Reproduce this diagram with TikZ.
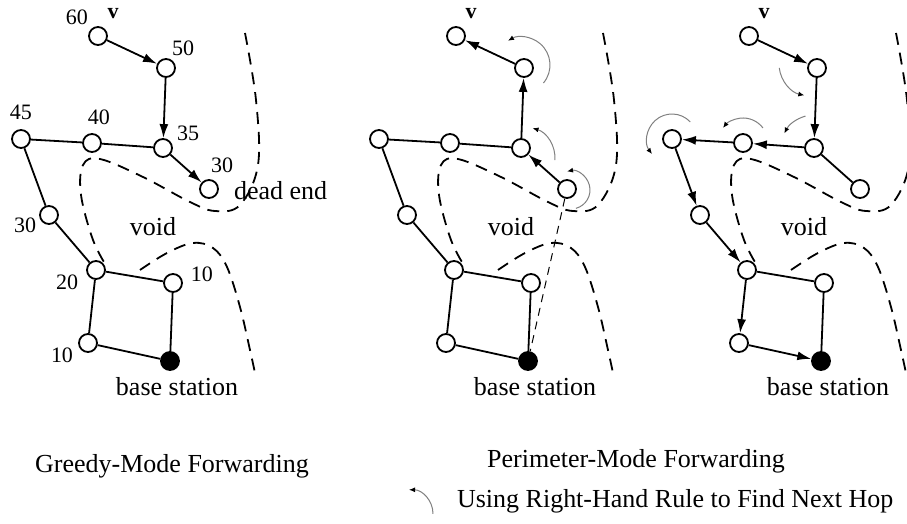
\documentclass[tikz,border=0pt]{standalone}
\usepackage{fontspec}
\setmainfont{Liberation Serif}
\usetikzlibrary{arrows.meta}

\begin{document}
\begin{tikzpicture}[
    x=0.5pt, y=-0.5pt,
    sensor/.style={draw, circle, minimum size=9pt, inner sep=0pt, line width=0.9pt, fill=white},
    sink/.style={sensor, fill=black},
    link/.style={line width=0.9pt},
    hop/.style={link, -{Latex[length=7pt, width=4.5pt]}},
    boundary/.style={line width=0.9pt, dash pattern=on 6pt off 4pt},
    rhr/.style={gray, line width=0.5pt, -{Latex[length=3pt, width=2.5pt, color=black]}},
    lbl/.style={font=\fontsize{13}{15}\selectfont},
    num/.style={font=\fontsize{11}{13}\selectfont}
]
    \useasboundingbox (0,0) rectangle (907,524);

    % Three copies of the same network
    \foreach \p/\dx in {g/0, p/358, h/651} {
    \begin{scope}[shift={(\dx,0)}, name prefix=\p-]
        % Void boundaries
        \draw[boundary] plot[smooth, tension=0.6] coordinates {(245,33) (256,100) (258,165) (240,205) (215,211) (190,202) (143,177) (100,159) (83,165) (81,195) (93,240) (107,267)};
        \draw[boundary] plot[smooth, tension=0.6] coordinates {(140,270) (167,253) (193,243) (213,248) (227,267) (240,307) (250,350) (255,373)};

        % Sensor nodes
        \node[sensor] (v) at (98,36) {};
        \node[sensor] (n50) at (166,68) {};
        \node[sensor] (n35) at (163,148) {};
        \node[sensor] (n30) at (209,189) {};
        \node[sensor] (n40) at (92,143) {};
        \node[sensor] (n45) at (21,139) {};
        \node[sensor] (n30b) at (49,215) {};
        \node[sensor] (n20) at (96,270) {};
        \node[sensor] (n10a) at (173,283) {};
        \node[sensor] (n10b) at (88,343) {};
        \node[sink] (bs) at (170,361) {};

        % Labels
        \node[num, font=\fontsize{11}{13}\selectfont\bfseries] (vlabel) at (113,14) {v};
        \node[lbl] (void) at (153,227) {void};
        \node[lbl] (bslabel) at (177,387) {base station};
    \end{scope}
    }

    % Greedy mode: distances to the base station
    \node[num] (d60) at (77,17) {60};
    \node[num] (d50) at (183,48) {50};
    \node[num] (d45) at (21,112) {45};
    \node[num] (d40) at (99,117) {40};
    \node[num] (d35) at (188,133) {35};
    \node[num] (d30) at (222,165) {30};
    \node[lbl, anchor=west] (deadend) at (227,191) {dead end};
    \node[num] (d30b) at (25,225) {30};
    \node[num] (d20) at (67,282) {20};
    \node[num] (d10a) at (202,274) {10};
    \node[num] (d10b) at (62,355) {10};

    % Greedy mode edges
    \draw[hop] (g-v) -- (g-n50);
    \draw[hop] (g-n50) -- (g-n35);
    \draw[hop] (g-n35) -- (g-n30);
    \draw[link] (g-n45) -- (g-n40) -- (g-n35);
    \draw[link] (g-n45) -- (g-n30b) -- (g-n20) -- (g-n10a) -- (g-bs) -- (g-n10b) -- (g-n20);

    % Perimeter mode, back towards v
    \draw[hop] (p-n30) -- (p-n35);
    \draw[hop] (p-n35) -- (p-n50);
    \draw[hop] (p-n50) -- (p-v);
    \draw[link] (p-n45) -- (p-n40) -- (p-n35);
    \draw[link] (p-n45) -- (p-n30b) -- (p-n20) -- (p-n10a) -- (p-bs) -- (p-n10b) -- (p-n20);
    \draw[line width=0.5pt, dash pattern=on 4pt off 3pt] (p-n30) -- (p-bs);
    \draw[rhr] ([shift={(-2,-3)}]p-n50.center) ++(40:28) arc[start angle=40, end angle=-120, radius=28];
    \draw[rhr] ([shift={(3,10)}]p-n35.center) ++(4:31) arc[start angle=4, end angle=-74, radius=31];
    \draw[rhr] ([shift={(4,1)}]p-n30.center) ++(75:19) arc[start angle=75, end angle=-102, radius=19];

    % Perimeter mode, around the void
    \draw[hop] (h-v) -- (h-n50);
    \draw[hop] (h-n50) -- (h-n35);
    \draw[hop] (h-n35) -- (h-n40);
    \draw[hop] (h-n40) -- (h-n45);
    \draw[hop] (h-n45) -- (h-n30b);
    \draw[hop] (h-n30b) -- (h-n20);
    \draw[hop] (h-n20) -- (h-n10b);
    \draw[hop] (h-n10b) -- (h-bs);
    \draw[link] (h-n35) -- (h-n30);
    \draw[link] (h-n20) -- (h-n10a) -- (h-bs);
    \draw[rhr] ([shift={(-6,-4)}]h-n50.center) ++(-187:32) arc[start angle=-187, end angle=-258, radius=32];
    \draw[rhr] (h-n35.center) ++(-105:33) arc[start angle=-105, end angle=-154, radius=33];
    \draw[rhr] (h-n40.center) ++(-37:25) arc[start angle=-37, end angle=-143, radius=25];
    \draw[rhr] (h-n45.center) ++(-43:25) arc[start angle=-43, end angle=-217, radius=25];

    % Captions
    \node[lbl, anchor=base] (greedy) at (172,473) {Greedy-Mode Forwarding};
    \node[lbl, anchor=base] (perimeter) at (636,467) {Perimeter-Mode Forwarding};
    \node[lbl, anchor=base west] (legend) at (450,508) {Using Right-Hand Rule to Find Next Hop};
    \draw[rhr] (legend.west) ++(-17,12) arc[start angle=0, end angle=-90, radius=24];
\end{tikzpicture}
\end{document}
